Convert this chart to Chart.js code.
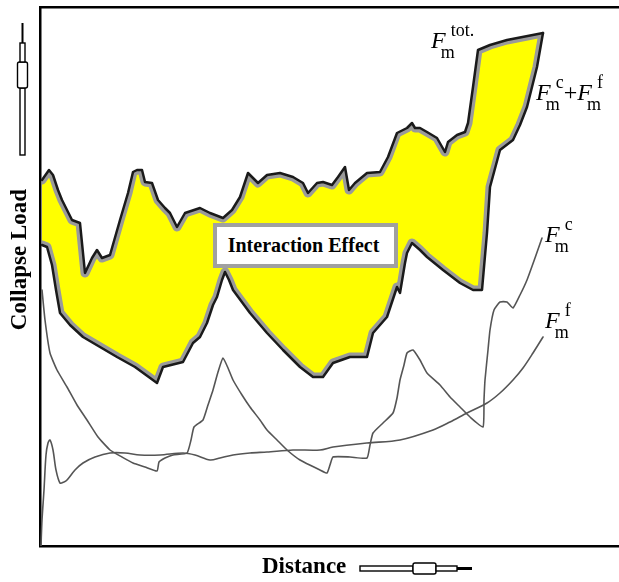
<!DOCTYPE html>
<html lang="en">
<head>
    <meta charset="UTF-8">
    <title>Collapse Load vs Distance</title>
    <script src="https://cdn.jsdelivr.net/npm/chart.js"></script>
    <style>
        body {
            margin: 0;
            padding: 0;
            background: #ffffff;
        }
        #wrap {
            position: relative;
            width: 619px;
            height: 582px;
            overflow: hidden;
            font-family: 'Liberation Serif', 'DejaVu Serif', serif;
        }
        #chart {
            position: absolute;
            left: 0;
            top: 0;
        }
        .title {
            position: absolute;
            font-weight: bold;
            font-size: 23px;
            line-height: 1;
            white-space: nowrap;
        }
        #ytitle {
            left: -82px;
            top: 248px;
            width: 200px;
            text-align: center;
            transform: rotate(-90deg);
        }
        #xtitle {
            left: 262px;
            top: 554px;
        }
        #effect {
            position: absolute;
            left: 213px;
            top: 223px;
            width: 185px;
            height: 45px;
            box-sizing: border-box;
            border: 4px solid #a0a0a0;
            background: #ffffff;
            font-weight: bold;
            font-size: 20px;
            line-height: 37px;
            text-align: center;
            padding-right: 4px;
        }
        .lab {
            position: absolute;
            font-size: 24px;
            line-height: 1;
            white-space: nowrap;
        }
        .lab .sb {
            font-size: 18px;
            position: relative;
            top: 10px;
            margin-left: -5px;
        }
        .lab .sp {
            font-size: 18px;
            position: relative;
            top: -12px;
            margin-left: -4px;
        }
        svg {
            position: absolute;
            left: 0;
            top: 0;
        }
    </style>
</head>
<body>
    <div id="wrap">
        <canvas id="chart" width="619" height="582"></canvas>
        <svg width="619" height="582">
            <!-- arrow up -->
            <rect x="20" y="88" width="5" height="67" fill="#fff" stroke="#000" stroke-width="1.4"/>
            <rect x="17.5" y="62" width="10" height="26" rx="2" fill="#fff" stroke="#000" stroke-width="1.4"/>
            <rect x="20" y="43" width="5" height="19" fill="#fff" stroke="#000" stroke-width="1.4"/>
            <line x1="22.5" y1="23" x2="22.5" y2="43" stroke="#000" stroke-width="2"/>
            <!-- arrow right -->
            <rect x="360" y="566" width="53" height="5" fill="#fff" stroke="#000" stroke-width="1.4"/>
            <rect x="413" y="563" width="23" height="11" rx="2" fill="#fff" stroke="#000" stroke-width="1.4"/>
            <rect x="436" y="566" width="21" height="5" fill="#fff" stroke="#000" stroke-width="1.4"/>
            <line x1="457" y1="568.5" x2="472" y2="568.5" stroke="#000" stroke-width="3"/>
        </svg>
        <div class="title" id="ytitle">Collapse Load</div>
        <div class="title" id="xtitle">Distance</div>
        <div id="effect">Interaction Effect</div>
        <div class="lab" style="left:431px; top:28px;"><i>F</i><span class="sb">m</span><span class="sp">tot.</span></div>
        <div class="lab" style="left:536px; top:80px;"><i>F</i><span class="sb">m</span><span class="sp">c</span>+<i>F</i><span class="sb">m</span><span class="sp">f</span></div>
        <div class="lab" style="left:545px; top:222px;"><i>F</i><span class="sb">m</span><span class="sp">c</span></div>
        <div class="lab" style="left:545px; top:308px;"><i>F</i><span class="sb">m</span><span class="sp">f</span></div>
    </div>
    <script>
        // valores: [distância, carga]
        const totalLoad = [
            [2,366],[9,376],[13,371],[18,356],[22,346],[32,326],[40,323],[45,273],[52,288],[57,296],
            [62,288],[70,291],[80,326],[88,353],[93,374],[97,376],[102,376],[105,364],[112,363],[118,346],
            [125,338],[130,333],[137,319],[145,333],[160,338],[170,333],[183,328],[192,336],[200,349],[208,373],
            [218,363],[227,371],[240,373],[253,369],[263,363],[268,353],[277,363],[283,364],[292,361],[298,369],
            [305,379],[309,356],[315,363],[327,373],[340,374],[348,389],[357,413],[367,418],[372,423],[375,418],
            [380,418],[387,414],[397,408],[405,394],[408,404],[417,411],[425,414],[428,423],[433,459],[438,496],
            [450,501],[467,506],[503,513]
        ];
        const sumLoad = [
            [2,301],[7,299],[12,281],[16,256],[20,233],[30,221],[43,209],[60,199],[77,189],[95,179],
            [117,163],[123,179],[135,182],[143,184],[153,203],[160,209],[167,223],[173,241],[177,249],[182,266],
            [185,274],[189,266],[193,256],[210,233],[227,213],[243,196],[260,179],[273,169],[283,169],[293,183],
            [310,189],[327,189],[333,213],[347,229],[357,259],[360,253],[365,283],[367,293],[372,303],[380,296],
            [387,289],[403,276],[420,263],[433,256],[442,256],[447,313],[450,359],[460,396],[473,406],[480,421],
            [487,439],[497,479],[503,513]
        ];
        const concreteLoad = [
            [2,256],[5,226],[10,193],[17,176],[27,159],[37,141],[47,126],[58,109],[70,96],[82,89],
            [93,83],[105,79],[117,75],[119,84],[125,88],[133,91],[147,93],[151,106],[154,119],[163,126],
            [168,141],[173,156],[178,174],[183,188],[188,178],[193,166],[202,151],[210,139],[220,126],[227,116],
            [237,106],[247,96],[260,86],[280,76],[287,73],[290,81],[293,89],[310,89],[327,88],[330,101],
            [333,113],[343,123],[353,133],[357,148],[360,166],[364,181],[367,193],[373,196],[380,186],[387,173],
            [400,161],[410,149],[420,139],[430,129],[443,119],[444,146],[445,166],[448,196],[450,216],[454,236],
            [460,244],[467,244],[473,238],[480,251],[487,266],[495,288],[502,308]
        ];
        const frictionLoad = [
            [1,0],[2,26],[4,56],[6,91],[8,103],[10,106],[13,96],[16,76],[20,63],[24,64],
            [27,66],[35,76],[43,83],[55,89],[70,93],[85,93],[100,91],[120,91],[143,93],[155,91],
            [170,86],[180,88],[193,91],[210,93],[227,94],[253,96],[280,96],[293,99],[327,103],[360,106],
            [393,116],[410,124],[427,133],[447,143],[460,153],[473,166],[483,178],[493,193],[503,209]
        ];
        const xMax = 579;
        const yMax = 539;

        const toXY = arr => arr.map(p => ({ x: p[0], y: p[1] }));

        // recorta as linhas cinzas para dentro da faixa amarela
        const bandClip = {
            id: 'bandClip',
            beforeDatasetDraw(chart, args) {
                if (!chart.data.datasets[args.index].clipToBand) return;
                const top = chart.getDatasetMeta(0).data;
                const bottom = chart.getDatasetMeta(1).data;
                const ctx = chart.ctx;
                ctx.save();
                ctx.beginPath();
                ctx.moveTo(top[0].x, top[0].y);
                top.forEach(p => ctx.lineTo(p.x, p.y));
                for (let i = bottom.length - 1; i >= 0; i--) {
                    ctx.lineTo(bottom[i].x, bottom[i].y);
                }
                ctx.closePath();
                ctx.clip();
            },
            afterDatasetDraw(chart, args) {
                if (!chart.data.datasets[args.index].clipToBand) return;
                chart.ctx.restore();
            }
        };

        const ctx = document.getElementById('chart').getContext('2d');
        new Chart(ctx, {
            type: 'line',
            data: {
                datasets: [
                    {
                        // preenchimento amarelo (efeito de interação)
                        data: toXY(totalLoad),
                        borderWidth: 0,
                        backgroundColor: '#ffff00',
                        fill: 1,
                        order: 10
                    },
                    {
                        data: toXY(sumLoad),
                        borderColor: '#9a9a9a',
                        borderWidth: 9,
                        fill: false,
                        clipToBand: true,
                        order: 8
                    },
                    {
                        data: toXY(totalLoad),
                        borderColor: '#9a9a9a',
                        borderWidth: 9,
                        fill: false,
                        clipToBand: true,
                        order: 8
                    },
                    {
                        label: 'Fm tot.',
                        data: toXY(totalLoad),
                        borderColor: '#1a1a1a',
                        borderWidth: 2.5,
                        fill: false,
                        order: 1
                    },
                    {
                        label: 'Fm c + Fm f',
                        data: toXY(sumLoad),
                        borderColor: '#1a1a1a',
                        borderWidth: 2.5,
                        fill: false,
                        order: 1
                    },
                    {
                        label: 'Fm c',
                        data: toXY(concreteLoad),
                        borderColor: '#555555',
                        borderWidth: 1.6,
                        tension: 0.15,
                        fill: false,
                        order: 2
                    },
                    {
                        label: 'Fm f',
                        data: toXY(frictionLoad),
                        borderColor: '#555555',
                        borderWidth: 1.6,
                        tension: 0.3,
                        fill: false,
                        order: 2
                    }
                ]
            },
            options: {
                responsive: false,
                animation: false,
                layout: {
                    padding: { left: 40, top: 7, right: 0, bottom: 36 }
                },
                elements: {
                    point: { radius: 0 },
                    line: { tension: 0, borderCapStyle: 'round', borderJoinStyle: 'round' }
                },
                plugins: {
                    legend: { display: false },
                    tooltip: { enabled: false }
                },
                scales: {
                    x: {
                        type: 'linear',
                        min: 0,
                        max: xMax,
                        ticks: { display: false },
                        grid: { display: false, drawTicks: false },
                        border: { color: '#000', width: 2.5 }
                    },
                    xTop: {
                        type: 'linear',
                        position: 'top',
                        min: 0,
                        max: xMax,
                        ticks: { display: false },
                        grid: { display: false, drawTicks: false },
                        border: { color: '#000', width: 2.5 }
                    },
                    y: {
                        min: 0,
                        max: yMax,
                        ticks: { display: false },
                        grid: { display: false, drawTicks: false },
                        border: { color: '#000', width: 2.5 }
                    }
                }
            },
            plugins: [bandClip]
        });
    </script>
</body>
</html>
